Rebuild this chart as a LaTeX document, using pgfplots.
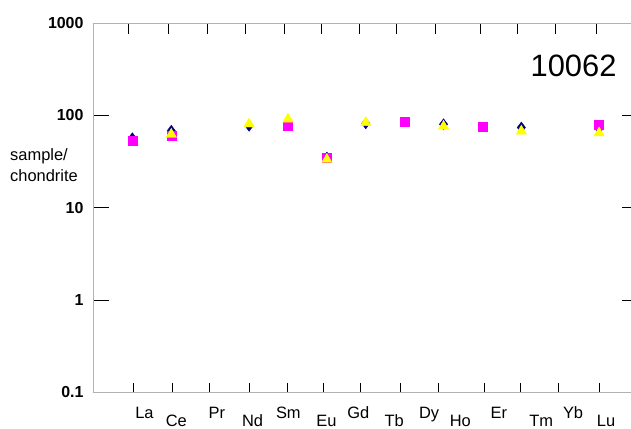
\documentclass[border=0pt]{standalone}
\usepackage{fontspec}
\setmainfont{Liberation Sans}
\usepackage{pgfplots}
\pgfplotsset{compat=1.18}
\definecolor{navy}{HTML}{000080}
\definecolor{mag}{HTML}{FF00FF}
\definecolor{yel}{HTML}{FFFF00}

% shared frame: x is the element index (La=0 ... ), y is sample/chondrite
\pgfplotsset{
  reeframe/.style={
    at={(0,0)}, anchor=south west, scale only axis,
    width=544.5bp, height=369.5bp,
    xmin=-1, xmax=13,
    ymin=0.1, ymax=1000,
    axis line style={gray!60, line width=0.9pt},
    tick style={black, line width=0.9pt},
    tick align=inside,
    xminorticks=false, yminorticks=false,
  },
}
\tikzset{
  hi/.style={anchor=base, yshift=-26bp, font=\fontsize{16.5}{19}\selectfont},
  lo/.style={anchor=base, yshift=-34bp, font=\fontsize{16.5}{19}\selectfont},
}

\begin{document}
\begin{tikzpicture}
\useasboundingbox (-93.5bp,-36.5bp) rectangle (537.5bp,392.5bp);

% bottom ticks
\begin{axis}[ymode=log, reeframe, ytick=\empty, xtick pos=left, major tick length=10bp,
  xtick={0.03,1.03,1.99,3.01,3.98,4.92,5.87,6.88,7.87,9.05,9.97,10.95,12.0},
  xticklabels={}]
\end{axis}

% top ticks
\begin{axis}[ymode=log, reeframe, ytick=\empty, xtick pos=right, major tick length=11bp,
  xtick={-0.10,0.93,1.93,2.90,3.90,4.87,5.83,6.78,7.80,8.94,9.89,10.89,11.92},
  xticklabels={}]
\end{axis}

\begin{axis}[ymode=log, reeframe, clip=false,
  xtick=\empty,
  ytick={1,10,100}, yticklabels={\textbf{1},\textbf{10},\textbf{100}},
  extra y ticks={0.1,1000}, extra y tick labels={\textbf{0.1},\textbf{1000}},
  extra y tick style={major tick length=0pt},
  ytick pos=both, yticklabel pos=left, major tick length=16bp,
  yticklabel style={font=\fontsize{16}{19}\selectfont, xshift=-6.5bp},
]
\addplot[only marks, mark=diamond*, mark size=5.5bp, color=navy] coordinates {
  (0,56.6) (1,68.2) (3,77.1) (4,80) (5,35) (6,82) (8,80.2) (10,73.9) (12,71.8)
};
\addplot[only marks, mark=square*, mark size=4.5bp, color=mag] coordinates {
  (0,53.3) (1,59.6) (4,77.6) (5,34.8) (7,85.8) (9,74.8) (12,78.7)
};
\addplot[only marks, mark=triangle*, mark size=6bp, color=yel] coordinates {
  (1,62.4) (3,80.6) (4,91.2) (5,33.3) (6,83.5) (8,76.2) (10,67.6) (12,64.6)
};

\node[hi] at (axis cs:0.31,0.1) {La};
\node[lo] at (axis cs:1.13,0.1) {Ce};
\node[hi] at (axis cs:2.17,0.1) {Pr};
\node[lo] at (axis cs:3.09,0.1) {Nd};
\node[hi] at (axis cs:4.01,0.1) {Sm};
\node[lo] at (axis cs:4.99,0.1) {Eu};
\node[hi] at (axis cs:5.81,0.1) {Gd};
\node[lo] at (axis cs:6.73,0.1) {Tb};
\node[hi] at (axis cs:7.63,0.1) {Dy};
\node[lo] at (axis cs:8.43,0.1) {Ho};
\node[hi] at (axis cs:9.42,0.1) {Er};
\node[lo] at (axis cs:10.51,0.1) {Tm};
\node[hi] at (axis cs:11.33,0.1) {Yb};
\node[lo] at (axis cs:12.18,0.1) {Lu};
\end{axis}

\node[anchor=base west, inner sep=0pt, font=\fontsize{16.5}{19}\selectfont] at (-83.5bp,231.5bp) {sample/};
\node[anchor=base west, inner sep=0pt, font=\fontsize{16.5}{19}\selectfont] at (-83.5bp,211bp) {chondrite};
\node[anchor=base east, inner sep=0pt, font=\fontsize{31}{36}\selectfont] at (523.2bp,315.8bp) {10062};
\end{tikzpicture}
\end{document}
